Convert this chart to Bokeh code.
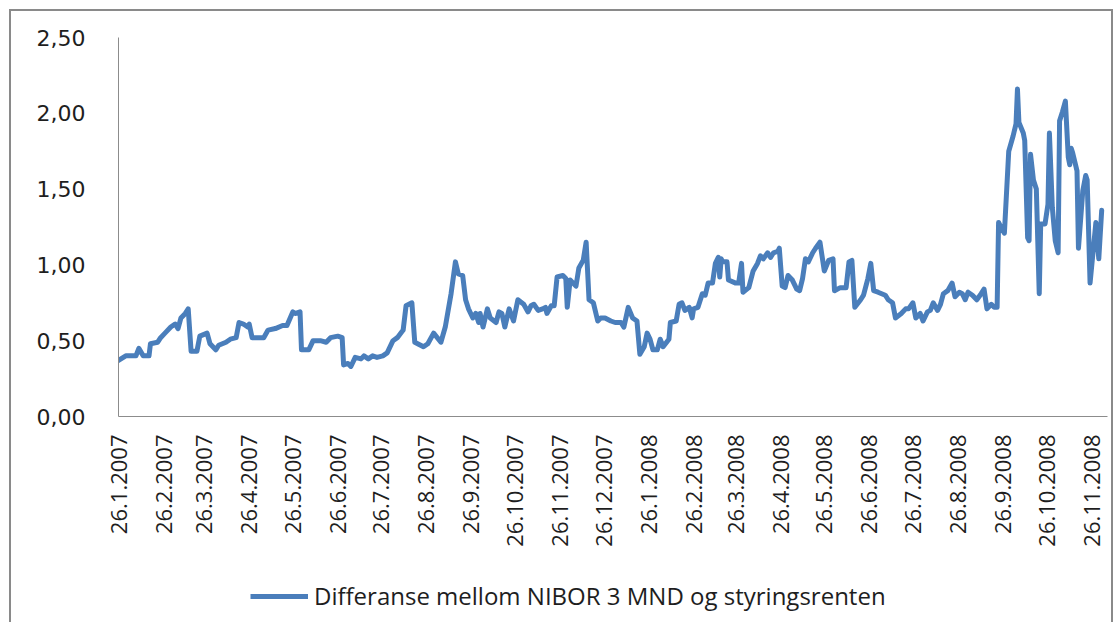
import math
from datetime import datetime
from bokeh.plotting import figure
from bokeh.layouts import column
from bokeh.models import Range1d, FixedTicker, Legend, LegendItem
from bokeh.embed import file_html
from bokeh.resources import INLINE

# ---- data ----
start_date = "26.1.2007"
# days since 26.1.2007
days = [0, 5, 12, 14, 17, 21, 22, 27, 29, 32, 36, 39, 41, 43, 46, 48, 50, 54, 56, 61,
        63, 67, 69, 74, 77, 81, 83, 86, 89, 90, 92, 100, 103, 108, 113, 116, 120, 122, 125, 126,
        131, 134, 139, 143, 146, 151, 154, 155, 158, 160, 163, 167, 169, 172, 175, 178, 182, 185, 189, 192,
        196, 198, 202, 204, 208, 210, 213, 217, 222, 225, 229, 232, 234, 237, 239, 241, 244, 246, 248, 249,
        251, 254, 256, 260, 262, 264, 266, 269, 272, 275, 279, 282, 284, 286, 289, 292, 294, 295, 298, 300,
        302, 306, 308, 309, 311, 315, 317, 320, 322, 324, 327, 330, 332, 335, 339, 342, 346, 348, 351, 354,
        357, 359, 362, 364, 366, 368, 371, 373, 375, 379, 380, 384, 386, 388, 390, 393, 395, 396, 399, 402,
        404, 406, 409, 411, 413, 414, 415, 416, 419, 420, 425, 427, 429, 430, 434, 437, 440, 442, 444, 447,
        449, 451, 454, 455, 457, 459, 461, 464, 467, 469, 471, 473, 475, 478, 480, 483, 486, 489, 492, 493,
        497, 501, 503, 505, 507, 511, 513, 516, 518, 520, 523, 528, 530, 533, 535, 539, 542, 544, 547, 549,
        552, 554, 557, 559, 561, 564, 566, 568, 571, 574, 576, 579, 581, 583, 585, 588, 591, 594, 596, 598,
        601, 603, 605, 606, 608, 610, 613, 616, 618, 619, 620, 623, 624, 626, 627, 628, 630, 632, 634, 635,
        638, 640, 641, 643, 645, 647, 648, 650, 652, 654, 655, 656, 657, 660, 661, 664, 666, 667, 669, 673,
        675, 677]
spread = [0.37, 0.40, 0.40, 0.45, 0.40, 0.40, 0.48, 0.49, 0.52, 0.55, 0.59, 0.61, 0.58, 0.65, 0.68, 0.71, 0.43, 0.43, 0.53, 0.55,
          0.48, 0.44, 0.47, 0.49, 0.51, 0.52, 0.62, 0.61, 0.59, 0.61, 0.52, 0.52, 0.57, 0.58, 0.60, 0.60, 0.69, 0.68, 0.69, 0.44,
          0.44, 0.50, 0.50, 0.49, 0.52, 0.53, 0.52, 0.34, 0.35, 0.33, 0.39, 0.38, 0.40, 0.38, 0.40, 0.39, 0.40, 0.42, 0.50, 0.52,
          0.57, 0.73, 0.75, 0.49, 0.47, 0.46, 0.48, 0.55, 0.49, 0.59, 0.81, 1.02, 0.94, 0.93, 0.77, 0.71, 0.65, 0.68, 0.62, 0.68,
          0.59, 0.71, 0.65, 0.62, 0.69, 0.68, 0.59, 0.71, 0.63, 0.77, 0.74, 0.69, 0.73, 0.74, 0.70, 0.71, 0.72, 0.68, 0.73, 0.73,
          0.92, 0.93, 0.91, 0.72, 0.90, 0.86, 0.98, 1.03, 1.15, 0.77, 0.75, 0.63, 0.65, 0.65, 0.63, 0.62, 0.62, 0.59, 0.72, 0.65,
          0.63, 0.41, 0.46, 0.55, 0.51, 0.44, 0.44, 0.51, 0.46, 0.51, 0.62, 0.63, 0.74, 0.75, 0.70, 0.72, 0.65, 0.71, 0.72, 0.81,
          0.80, 0.88, 0.88, 1.01, 1.05, 0.92, 1.04, 1.02, 1.02, 0.90, 0.88, 0.88, 1.01, 0.82, 0.85, 0.96, 1.01, 1.06, 1.04, 1.08,
          1.05, 1.08, 1.09, 1.11, 0.86, 0.85, 0.93, 0.90, 0.84, 0.83, 0.91, 1.04, 1.02, 1.08, 1.11, 1.15, 0.96, 1.03, 1.04, 0.83,
          0.85, 0.85, 1.02, 1.03, 0.72, 0.77, 0.80, 0.91, 1.01, 0.83, 0.82, 0.80, 0.77, 0.75, 0.65, 0.68, 0.71, 0.71, 0.75, 0.65,
          0.68, 0.63, 0.69, 0.70, 0.75, 0.70, 0.74, 0.81, 0.83, 0.88, 0.79, 0.82, 0.81, 0.77, 0.82, 0.80, 0.77, 0.81, 0.84, 0.71,
          0.74, 0.72, 0.72, 1.28, 1.24, 1.21, 1.75, 1.85, 1.93, 2.16, 1.94, 1.87, 1.82, 1.18, 1.16, 1.73, 1.56, 1.50, 0.81, 1.27,
          1.27, 1.40, 1.87, 1.38, 1.16, 1.08, 1.95, 2.01, 2.08, 1.71, 1.66, 1.77, 1.74, 1.62, 1.11, 1.49, 1.59, 1.56, 0.88, 1.28,
          1.04, 1.36]

x_tick_labels = ["26.1.2007", "26.2.2007", "26.3.2007", "26.4.2007", "26.5.2007", "26.6.2007",
                 "26.7.2007", "26.8.2007", "26.9.2007", "26.10.2007", "26.11.2007", "26.12.2007",
                 "26.1.2008", "26.2.2008", "26.3.2008", "26.4.2008", "26.5.2008", "26.6.2008",
                 "26.7.2008", "26.8.2008", "26.9.2008", "26.10.2008", "26.11.2008"]
y_ticks = [0.0, 0.5, 1.0, 1.5, 2.0, 2.5]
y_tick_labels = ["0,00", "0,50", "1,00", "1,50", "2,00", "2,50"]
series_name = "Differanse mellom NIBOR 3 MND og styringsrenten"

LINE_COLOR = "#4a7ebb"
TEXT_COLOR = "#1e1e1e"

# ---- main chart ----
t0 = datetime.strptime(start_date, "%d.%m.%Y")
x_ticks = [(datetime.strptime(s, "%d.%m.%Y") - t0).days for s in x_tick_labels]

p = figure(width=1100, height=554, output_backend="svg", toolbar_location=None,
           x_range=Range1d(0, 681), y_range=Range1d(0, 2.5),
           min_border_left=107, min_border_right=4, min_border_top=26, min_border_bottom=149)
p.outline_line_color = None
p.background_fill_color = "white"
p.border_fill_color = "white"
p.xgrid.visible = False
p.ygrid.visible = False

p.line(days, spread, line_color=LINE_COLOR, line_width=5, line_join="round", line_cap="round")

for ax in (p.xaxis[0], p.yaxis[0]):
    ax.axis_line_color = "#8c8c8c"
    ax.axis_line_width = 1
    ax.major_tick_line_color = None
    ax.minor_tick_line_color = None
    ax.major_label_text_color = TEXT_COLOR

p.yaxis.ticker = FixedTicker(ticks=y_ticks)
p.yaxis.major_label_overrides = dict(zip(y_ticks, y_tick_labels))
p.yaxis.major_label_text_font = "DejaVu Sans"
p.yaxis.major_label_text_font_size = "22px"
p.yaxis.major_label_standoff = 27

p.xaxis.ticker = FixedTicker(ticks=x_ticks)
p.xaxis.major_label_overrides = dict(zip(x_ticks, x_tick_labels))
p.xaxis.major_label_orientation = math.pi / 2
p.xaxis.major_label_text_font = "Open Sans"
p.xaxis.major_label_text_font_size = "22px"
p.xaxis.major_label_standoff = 12

# ---- legend strip (same series, drawn outside its view; only the key shows) ----
pl = figure(width=1100, height=57, output_backend="svg", toolbar_location=None,
            x_axis_type=None, y_axis_type=None,
            x_range=Range1d(0, 681), y_range=Range1d(10, 11),
            min_border_left=0, min_border_right=0, min_border_top=0, min_border_bottom=0)
pl.outline_line_color = None
pl.background_fill_color = "white"
pl.border_fill_color = "white"
key = pl.line(days, spread, line_color=LINE_COLOR, line_width=5)

legend = Legend(items=[LegendItem(label=series_name, renderers=[key])],
                location=(132, 10), orientation="horizontal",
                glyph_width=58, glyph_height=20, label_standoff=6,
                padding=0, margin=0, border_line_color=None, background_fill_alpha=0,
                label_text_font="Open Sans", label_text_font_size="24px",
                label_text_color=TEXT_COLOR)
pl.add_layout(legend)

layout = column(p, pl, spacing=0)
layout.styles = {"margin-left": "9px", "margin-top": "9px",
                 "border-top": "2px solid #8a8a8a", "border-left": "2px solid #8a8a8a",
                 "border-right": "2px solid #8a8a8a", "width": "1104px",
                 "box-sizing": "border-box"}

open("out.html", "w").write(file_html(layout, INLINE))
